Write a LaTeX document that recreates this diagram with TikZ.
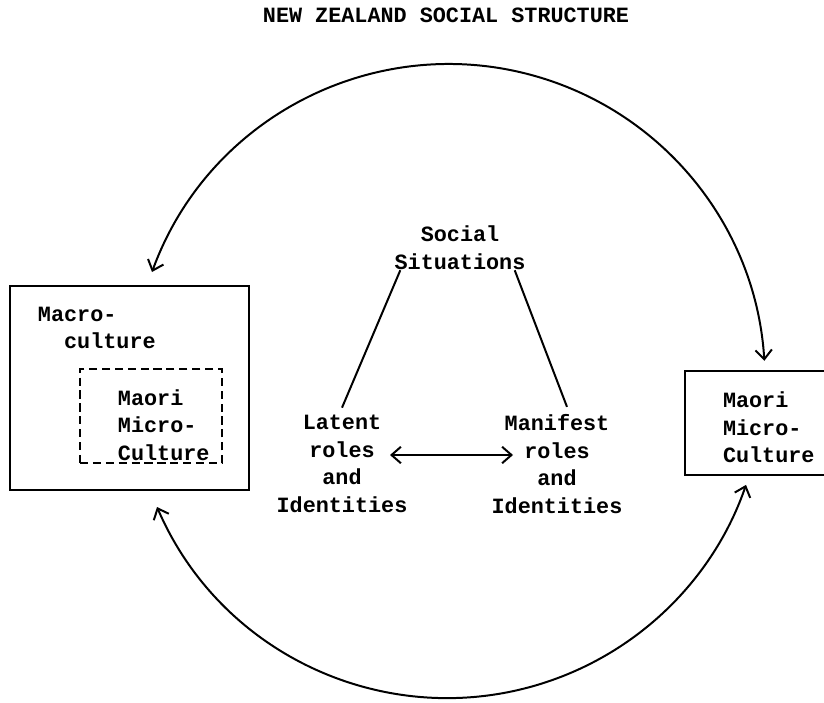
\documentclass[tikz,border=0pt]{standalone}
\usepackage{fontspec}
\setmonofont{Liberation Mono}
\usetikzlibrary{positioning,calc,arrows.meta}

\begin{document}
\begin{tikzpicture}[
x=0.03cm, y=0.03cm,
every node/.style={font=\ttfamily\bfseries\fontsize{18.6}{23.5}\selectfont, inner sep=0pt},
frame/.style={rectangle, draw, line width=1.9pt},
boxtext/.style={align=left, anchor=west},
roletext/.style={align=center},
>={Straight Barb[length=8pt,width=14pt]},
line width=1.7pt
]
	\useasboundingbox (0,0) rectangle (824,-702);

	\node at (446,-15) (title) {NEW ZEALAND SOCIAL STRUCTURE};

	\node at (129.5,-388) [frame, minimum width=7.17cm, minimum height=6.12cm] (macrobox) {};
	\node at (151,-416) [frame, dash pattern=on 7pt off 4pt, minimum width=4.26cm, minimum height=2.82cm] (innerbox) {};
	\node at (756.5,-423) [frame, minimum width=4.29cm, minimum height=3.12cm] (microbox) {};

	\node at (37,-328) [boxtext] (macro) {Macro-\\\phantom{cu}culture};
	\node at (117,-425) [boxtext] (innermicro) {Maori\\Micro-\\Culture};
	\node at (722,-427.5) [boxtext] (micro) {Maori\\Micro-\\Culture};

	\node at (460,-247.5) [roletext] (social) {Social\\Situations};
	\node at (342,-464) [roletext] (latent) {Latent\\roles\\and\\Identities};
	\node at (557,-464) [roletext] (manifest) {Manifest\\roles\\and\\Identities};

	\draw ([xshift=0.2cm]social.south west) -- ([yshift=0.2cm]latent.north);
	\draw ([xshift=-0.35cm]social.south east) -- ([xshift=0.3cm,yshift=0.2cm]manifest.north);

	\coordinate (latentroles) at (390,-455);
	\coordinate (manifestroles) at (513,-455);
	\draw [<->] (latentroles) -- (manifestroles);

	% arcs between the two cultures
	\coordinate (macrotop) at (152,-272);
	\coordinate (macrobottom) at (157,-507);
	\draw [<->] (macrotop) arc[start angle=160, end angle=3.5, radius=316];
	\draw [<->] (macrobottom) arc[start angle=203.3, end angle=341, radius=316];

\end{tikzpicture}
\end{document}
